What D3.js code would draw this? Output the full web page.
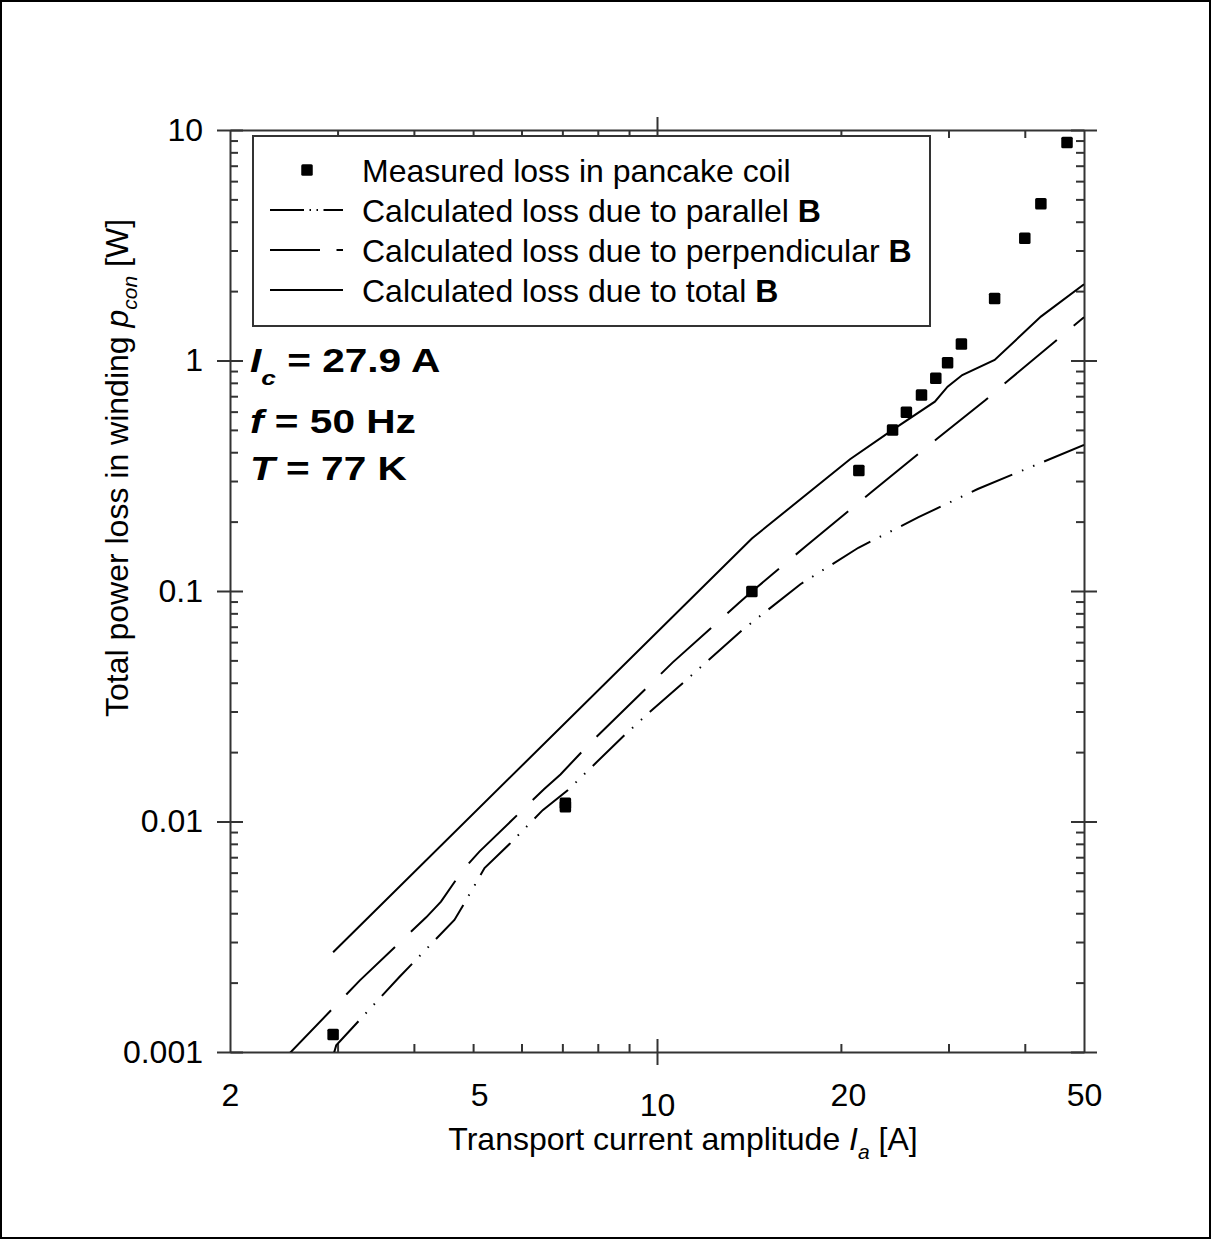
<!DOCTYPE html>
<html>
<head>
<meta charset="utf-8">
<script src="https://cdn.jsdelivr.net/npm/d3@7"></script>
<style>
  html, body { margin: 0; padding: 0; background: #fff; }
  svg { display: block; font-family: "Liberation Sans", Arial, sans-serif; }
</style>
</head>
<body>
<svg id="chart" width="1212" height="1240"></svg>
<script>
// Measured AC loss of the pancake coil
const measuredCurrent = [2.95, 7.08, 7.08, 14.3, 21.4, 24.3, 25.6, 27.1, 28.6, 29.9, 31.5, 35.7, 40.0, 42.5, 46.9];
const measuredLoss    = [0.00119, 0.0116, 0.0120, 0.0995, 0.333, 0.500, 0.596, 0.709, 0.837, 0.978, 1.18, 1.86, 3.39, 4.79, 8.83];

// Calculated loss due to the parallel field component
const parallelCurrent = [2.95, 2.985, 3.79, 4.66, 4.84, 5.22, 5.74, 6.50, 7.15, 8.89, 9.74, 11.03, 13.79, 17.17, 21.36, 26.8, 33.5, 40.9, 50];
const parallelLoss    = [0.00096, 0.00107, 0.00212, 0.00374, 0.00443, 0.00628, 0.0080, 0.0112, 0.0137, 0.0240, 0.0299, 0.0399, 0.0677, 0.107, 0.154, 0.209, 0.277, 0.345, 0.430];

// Calculated loss due to the perpendicular field component
const perpCurrent = [2.45, 3.26, 4.19, 4.43, 4.81, 5.12, 6.53, 6.95, 7.76, 10.6, 13.6, 14.3, 15.5, 17.5, 22.5, 28.8, 34.5, 37.0, 50];
const perpLoss    = [0.00093, 0.00204, 0.00384, 0.00449, 0.00616, 0.0074, 0.0138, 0.0160, 0.0218, 0.0489, 0.0885, 0.0995, 0.119, 0.156, 0.270, 0.460, 0.674, 0.791, 1.54];

// Calculated loss due to the total field
const totalCurrent = [2.95, 14.3, 20.7, 24.3, 28.5, 29.9, 31.6, 35.7, 42.5, 50];
const totalLoss    = [0.00271, 0.169, 0.373, 0.500, 0.663, 0.770, 0.865, 1.005, 1.55, 2.14];

// Axis labels
const xLabelValues = [2, 5, 10, 20, 50];
const xTickLabels  = ["2", "5", "10", "20", "50"];
const yLabelValues = [0.001, 0.01, 0.1, 1, 10];
const yTickLabels  = ["0.001", "0.01", "0.1", "1", "10"];

const legendLabels = [
  ["Measured loss in pancake coil", ""],
  ["Calculated loss due to parallel ", "B"],
  ["Calculated loss due to perpendicular ", "B"],
  ["Calculated loss due to total ", "B"]
];

const W = 1212, H = 1240;
const box = { left: 230, right: 1084, top: 130, bottom: 1052 };
const axisColor = "#333";
const fontSize = 32;

const x = d3.scaleLog().domain([2, 50]).range([box.left, box.right]);
const y = d3.scaleLog().domain([0.001, 10]).range([box.bottom, box.top]);

const svg = d3.select("#chart");

// page frame
svg.append("rect")
  .attr("x", 1).attr("y", 1).attr("width", W - 3).attr("height", H - 3)
  .attr("fill", "#fff").attr("stroke", "#000").attr("stroke-width", 2);

svg.append("defs").append("clipPath").attr("id", "plot-clip")
  .append("rect")
  .attr("x", box.left).attr("y", box.top)
  .attr("width", box.right - box.left).attr("height", box.bottom - box.top);

// tick positions: every integer multiple inside each decade
const xTicks = [3, 4, 5, 6, 7, 8, 9, 10, 20, 30, 40];
const yTicks = [];
[0.001, 0.01, 0.1, 1].forEach(dec => { for (let k = 1; k <= 9; k++) yTicks.push(k * dec); });
yTicks.push(10);
const isDecade = d => Math.abs(Math.log10(d) - Math.round(Math.log10(d))) < 1e-9;

function frameSide(axisFn, scale, values, translate, horizontal) {
  const g = svg.append("g").attr("transform", translate)
    .call(axisFn(scale).tickValues(values).tickSizeInner(-8).tickSizeOuter(0).tickFormat(""));
  g.select(".domain").attr("stroke", axisColor).attr("stroke-width", 2);
  g.selectAll(".tick line").attr("stroke", axisColor).attr("stroke-width", 2);
  g.selectAll(".tick").filter(isDecade).select("line")
    .attr(horizontal ? "y1" : "x1", -13)
    .attr(horizontal ? "y2" : "x2", 13);
  return g;
}

frameSide(d3.axisBottom, x, xTicks, `translate(0,${box.bottom})`, true);
frameSide(d3.axisTop, x, xTicks, `translate(0,${box.top})`, true);
frameSide(d3.axisLeft, y, yTicks, `translate(${box.left},0)`, false);
frameSide(d3.axisRight, y, yTicks, `translate(${box.right},0)`, false);

// tick labels (the 5 and 20 labels sit a little right of their ticks, 10 a little lower)
const xLab = svg.append("g").attr("transform", `translate(0,${box.bottom})`)
  .call(d3.axisBottom(x).tickValues(xLabelValues).tickSize(0).tickPadding(31)
    .tickFormat((d, i) => xTickLabels[i]));
xLab.select(".domain").remove();
xLab.selectAll("text")
  .attr("font-size", fontSize).attr("font-family", "Liberation Sans, Arial, sans-serif")
  .attr("fill", "#000")
  .attr("dx", d => (d === 5 ? 6 : d === 20 ? 7 : 0))
  .attr("y", d => d === 10 ? 41 : 31);

const yLab = svg.append("g").attr("transform", `translate(${box.left},0)`)
  .call(d3.axisLeft(y).tickValues(yLabelValues).tickSize(0).tickPadding(27)
    .tickFormat((d, i) => yTickLabels[i]));
yLab.select(".domain").remove();
yLab.selectAll("text")
  .attr("font-size", fontSize).attr("font-family", "Liberation Sans, Arial, sans-serif")
  .attr("fill", "#000");

// axis titles
const xt = svg.append("text")
  .attr("x", (box.left + box.right) / 2 + 26).attr("y", 1150)
  .attr("text-anchor", "middle").attr("font-size", fontSize);
xt.append("tspan").text("Transport current amplitude ");
xt.append("tspan").attr("font-style", "italic").text("I");
xt.append("tspan").attr("font-style", "italic").attr("font-size", 21).attr("dy", 9).text("a");
xt.append("tspan").attr("dy", -9).text(" [A]");

const yt = svg.append("text")
  .attr("transform", "translate(128,468) rotate(-90)")
  .attr("text-anchor", "middle").attr("font-size", fontSize);
yt.append("tspan").text("Total power loss in winding ");
yt.append("tspan").attr("font-style", "italic").text("p");
yt.append("tspan").attr("font-style", "italic").attr("font-size", 21).attr("dy", 9).text("con");
yt.append("tspan").attr("dy", -9).text(" [W]");

// curves
const line = d3.line().x(d => x(d[0])).y(d => y(d[1]));
const plot = svg.append("g").attr("clip-path", "url(#plot-clip)");

const parallelDash = "44,10.5,1.5,10.5,1.5,10.5";
const perpDash = "68,22";

plot.append("path").datum(d3.zip(parallelCurrent, parallelLoss))
  .attr("d", line).attr("fill", "none").attr("stroke", "#000").attr("stroke-width", 2)
  .attr("stroke-dasharray", parallelDash);
plot.append("path").datum(d3.zip(perpCurrent, perpLoss))
  .attr("d", line).attr("fill", "none").attr("stroke", "#000").attr("stroke-width", 2)
  .attr("stroke-dasharray", perpDash);
plot.append("path").datum(d3.zip(totalCurrent, totalLoss))
  .attr("d", line).attr("fill", "none").attr("stroke", "#000").attr("stroke-width", 2);

// measured points
const ms = 11.5;
svg.append("g").selectAll("rect").data(d3.zip(measuredCurrent, measuredLoss)).join("rect")
  .attr("x", d => x(d[0]) - ms / 2).attr("y", d => y(d[1]) - ms / 2)
  .attr("width", ms).attr("height", ms).attr("rx", 1.5)
  .attr("fill", "#000");

// legend
const lg = svg.append("g");
lg.append("rect").attr("x", 253).attr("y", 136).attr("width", 677).attr("height", 190)
  .attr("fill", "#fff").attr("stroke", axisColor).attr("stroke-width", 2);
const rowY = i => 170 + 40 * i;
lg.append("rect").attr("x", 307 - ms / 2).attr("y", rowY(0) - ms / 2)
  .attr("width", ms).attr("height", ms).attr("rx", 1.5).attr("fill", "#000");
const sampleDash = [null, "34,5.5,1.5,5.5,1.5,5.5,40", "50,16.5,7,10", null];
[1, 2, 3].forEach(i => {
  lg.append("line").attr("x1", 270).attr("x2", 343).attr("y1", rowY(i)).attr("y2", rowY(i))
    .attr("stroke", "#000").attr("stroke-width", 2)
    .attr("stroke-dasharray", sampleDash[i]);
});
legendLabels.forEach((lab, i) => {
  const t = lg.append("text").attr("x", 362).attr("y", rowY(i) + 11.7).attr("font-size", fontSize);
  t.append("tspan").text(lab[0]);
  if (lab[1]) t.append("tspan").attr("font-weight", "bold").text(lab[1]);
});

// operating conditions
function condition(baseline, parts) {
  const t = svg.append("text")
    .attr("transform", `translate(250,${baseline}) scale(1.25,1)`)
    .attr("font-size", 32.5).attr("font-weight", "bold");
  parts.forEach(p => {
    const s = t.append("tspan").text(p.text);
    if (p.italic) s.attr("font-style", "italic");
    if (p.sub) s.attr("font-size", 21);
    if (p.dy) s.attr("dy", p.dy);
  });
}
condition(372, [{ text: "I", italic: true }, { text: "c", italic: true, sub: true, dy: 13 }, { text: " = 27.9 A", dy: -13 }]);
condition(433, [{ text: "f", italic: true }, { text: " = 50 Hz" }]);
condition(480, [{ text: "T", italic: true }, { text: " = 77 K" }]);
</script>
</body>
</html>
